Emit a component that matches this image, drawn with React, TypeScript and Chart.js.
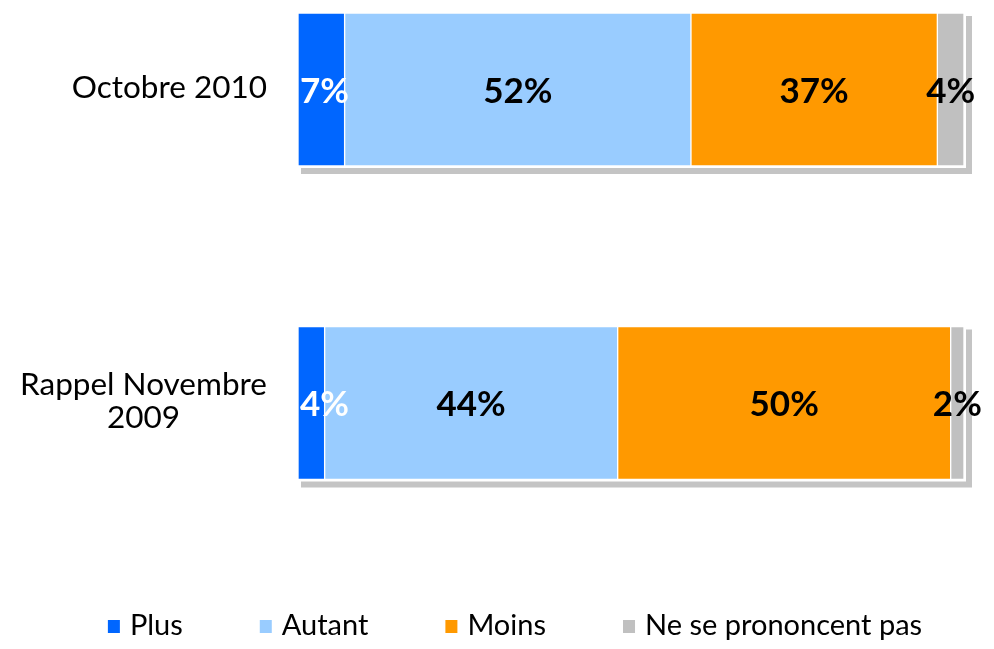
import React, { useEffect, useRef } from 'react';
import { Chart, registerables } from 'chart.js';
Chart.register(...registerables);

const categories: (string | string[])[] = ['Octobre 2010', ['Rappel Novembre', '2009']];
const seriesNames = ['Plus', 'Autant', 'Moins', 'Ne se prononcent pas'];
const plusValues = [7, 4];
const autantValues = [52, 44];
const moinsValues = [37, 50];
const nsppValues = [4, 2];
const seriesColors = ['#0066FF', '#99CCFF', '#FF9900', '#C0C0C0'];
const labelColors = ['#FFFFFF', '#000000', '#000000', '#000000'];

const FONT = 'Lato, "DejaVu Sans", sans-serif';
const BAR_THICKNESS = 153;

const shadowPlugin = {
  id: 'barShadow',
  beforeDatasetsDraw(chart: any) {
    const ctx = chart.ctx;
    const x = chart.scales.x;
    const y = chart.scales.y;
    const left = x.getPixelForValue(0);
    const right = x.getPixelForValue(100);
    ctx.save();
    categories.forEach((_, i) => {
      const yc = y.getPixelForValue(i);
      const top = yc - BAR_THICKNESS / 2;
      const bottom = yc + BAR_THICKNESS / 2;
      ctx.fillStyle = '#C4C4C4';
      ctx.fillRect(left + 3, top + 3, right - left + 5, bottom - top + 5);
      ctx.fillStyle = '#FFFFFF';
      ctx.fillRect(left, top, right - left + 2, bottom - top + 2);
    });
    ctx.restore();
  },
};

const labelsPlugin = {
  id: 'valueLabels',
  afterDatasetsDraw(chart: any) {
    const ctx = chart.ctx;
    const minLeft = chart.chartArea.left + 2;
    ctx.save();
    ctx.font = `bold 35px ${FONT}`;
    ctx.textAlign = 'center';
    ctx.textBaseline = 'middle';
    chart.data.datasets.forEach((ds: any, di: number) => {
      const meta = chart.getDatasetMeta(di);
      meta.data.forEach((el: any, i: number) => {
        const txt = `${ds.data[i]}%`;
        const w = ctx.measureText(txt).width;
        let cx = (el.x + el.base) / 2;
        if (cx - w / 2 < minLeft) cx = minLeft + w / 2;
        ctx.fillStyle = labelColors[di];
        ctx.fillText(txt, cx, el.y + 2);
      });
    });
    ctx.restore();
  },
};

const categoryPlugin = {
  id: 'categoryLabels',
  afterDraw(chart: any) {
    const ctx = chart.ctx;
    const y = chart.scales.y;
    const rightEdge = chart.chartArea.left - 31;
    ctx.save();
    ctx.font = `31.5px ${FONT}`;
    ctx.fillStyle = '#000000';
    ctx.textAlign = 'center';
    ctx.textBaseline = 'middle';
    const lineH = 33;
    categories.forEach((cat, i) => {
      const lines = Array.isArray(cat) ? cat : [cat];
      const widest = Math.max(...lines.map((l) => ctx.measureText(l).width));
      const cx = rightEdge - widest / 2;
      const yc = y.getPixelForValue(i) - 1.5;
      const startY = yc - ((lines.length - 1) * lineH) / 2;
      lines.forEach((l, k) => ctx.fillText(l, cx, startY + k * lineH));
    });
    ctx.restore();
  },
};

const legendPlugin = {
  id: 'customLegend',
  afterDraw(chart: any) {
    const ctx = chart.ctx;
    ctx.save();
    ctx.font = `29px ${FONT}`;
    ctx.textBaseline = 'middle';
    ctx.textAlign = 'left';
    const box = 12;
    const boxGap = 10;
    const itemGap = 77;
    const widths = seriesNames.map((n) => box + boxGap + ctx.measureText(n).width);
    const total = widths.reduce((a, b) => a + b, 0) + itemGap * (seriesNames.length - 1);
    let x = 515 - total / 2;
    const yc = 626;
    seriesNames.forEach((n, i) => {
      ctx.fillStyle = seriesColors[i];
      ctx.fillRect(x, yc - 6, box, 13);
      ctx.fillStyle = '#000000';
      ctx.fillText(n, x + box + boxGap, yc);
      x += widths[i] + itemGap;
    });
    ctx.restore();
  },
};

export default function App() {
  const canvasRef = useRef<HTMLCanvasElement | null>(null);
  useEffect(() => {
    if (!canvasRef.current) return;
    const seriesData = [plusValues, autantValues, moinsValues, nsppValues];
    const chart = new Chart(canvasRef.current, {
      type: 'bar',
      data: {
        labels: categories as any,
        datasets: seriesNames.map((name, i) => ({
          label: name,
          data: seriesData[i],
          backgroundColor: seriesColors[i],
          borderColor: '#FFFFFF',
          borderWidth: 1,
          borderSkipped: false,
          barThickness: BAR_THICKNESS,
          clip: false as any,
        })),
      },
      options: {
        indexAxis: 'y',
        animation: false,
        responsive: true,
        maintainAspectRatio: false,
        layout: { padding: { left: 298, right: 30, top: 89.5, bottom: 246 } },
        scales: {
          x: { stacked: true, min: 0, max: 100, display: false },
          y: { stacked: true, offset: false, display: false },
        },
        plugins: {
          legend: { display: false },
          tooltip: { enabled: false },
        },
      },
      plugins: [shadowPlugin, labelsPlugin, categoryPlugin, legendPlugin],
    });
    return () => chart.destroy();
  }, []);
  return (
    <div style={{ position: 'absolute', left: 0, top: 0, width: 994, height: 649, background: '#fff' }}>
      <canvas ref={canvasRef} />
    </div>
  );
}
